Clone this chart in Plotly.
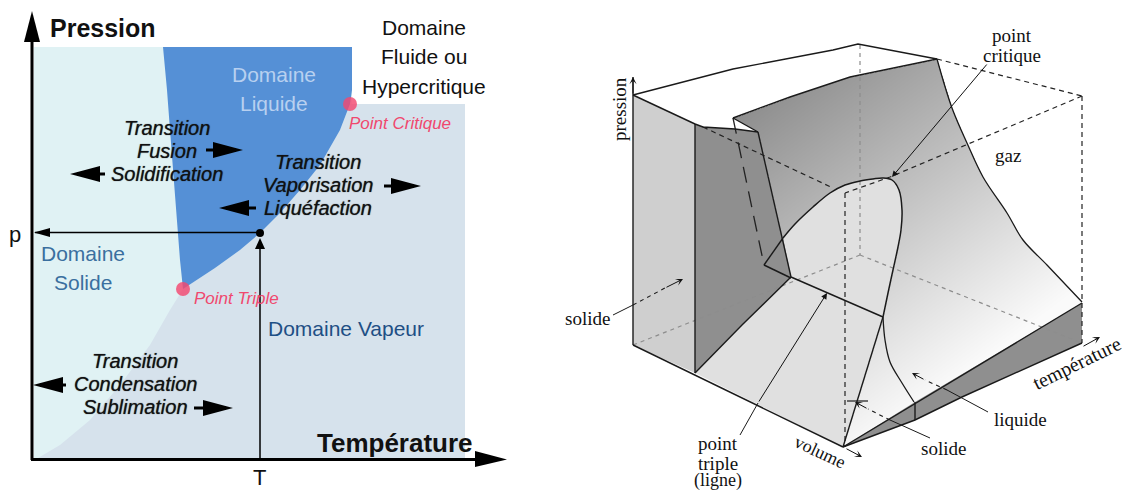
"""
Diagramme de phases (p, T) et surface p-V-T d'un corps pur
"""

import numpy as np
import plotly.graph_objects as go

W, H = 1122, 491
SANS = "Liberation Sans, Arial, sans-serif"
SERIF = "Liberation Serif, serif"

# --- left diagram: domain outlines (T, p)
solid_x = [34, 352, 352, 465, 465, 34]
solid_y = [47, 47, 458, 458, 458, 458]
vapor_x = [38, 60, 90, 120, 150, 170, 183, 215, 240, 260, 280, 300, 320, 340, 350, 465, 465]
vapor_y = [458, 445, 420, 385, 345, 310, 289, 268, 250, 233, 213, 190, 165, 130, 104, 104, 458]
liquid_x = [163, 352, 352, 350, 340, 320, 300, 280, 260, 240, 215, 183, 180, 178, 175, 170, 167]
liquid_y = [47, 47, 90, 104, 130, 165, 190, 213, 233, 250, 268, 289, 260, 232, 190, 130, 90]
special_x = [350, 183]
special_y = [104, 289]
state_x = [260]
state_y = [233]

# thick arrows: tail x, tip x, y
big_arrows = [(206, 243, 150), (105, 70, 174), (384, 421, 186), (256, 219, 208), (66, 33, 385), (194, 233, 408)]

# --- right diagram: faces of the p-V-T surface
face_solid_x = [633, 695, 695, 633]
face_solid_y = [95, 124, 373, 345]
face_dark_x = [695, 703, 735, 758, 791, 742, 695]
face_dark_y = [124, 127, 129, 132, 277, 325, 373]
floor_x = [695, 791, 883, 843]
floor_y = [373, 277, 317, 447]
notch_x = [791, 783, 764]
notch_y = [277, 238, 265]
front_x = [843, 915, 1082, 1082, 962, 915]
front_y = [447, 402, 303, 343, 397, 420]

# bell of the liquid-vapour dome, left foot to triple line
bell_x = [783, 795, 813, 830, 845, 860, 873, 883, 892, 899, 902, 901, 898, 893, 888, 883]
bell_y = [238, 224, 207, 193, 185, 181, 179, 178, 180, 190, 210, 230, 247, 270, 293, 317]
top_front_x = [733, 790, 850, 937]
top_front_y = [118, 97, 77, 59]
right_edge_x = [937, 952, 967, 983, 1007, 1023, 1047, 1082]
right_edge_y = [59, 108, 143, 177, 213, 240, 265, 302]

# shading of the big surface: grey level at a few spots
shade_xy = [(937, 65), (750, 140), (960, 180), (1040, 290), (920, 330)]
shade_level = [168, 150, 200, 242, 232]

# --- right diagram: wires
top_edge_x = [633, 733, 833, 858, 937]
top_edge_y = [95, 69, 50, 44, 59]
liquidus_x = [883, 885, 890, 902, 914]
liquidus_y = [317, 340, 362, 383, 402]

solid_wires = [
    ([633, 633], [77, 345]), ([633, 695], [95, 124]), ([695, 695], [124, 373]),
    ([633, 843], [345, 447]), ([695, 742, 791], [373, 325, 277]), ([695, 703, 735, 758], [124, 127, 129, 132]),
    ([733, 758], [118, 132]), ([758, 791], [132, 277]), ([791, 883], [277, 317]),
    ([883, 843], [317, 447]), ([764, 783], [265, 238]), ([764, 791], [265, 278]),
    (top_front_x, top_front_y), ([843, 1082], [447, 303]), ([843, 915, 962, 1082], [447, 420, 397, 343]),
    ([915, 915], [402, 420]),
]
dashed_wires = [
    ([937, 1082], [59, 96]), ([1082, 1082], [96, 343]), ([1082, 890, 845], [96, 177, 193]),
    ([845, 845], [193, 447]), ([703, 833], [127, 188]),
]
long_dash_wire = ([733, 764], [118, 265])
grey_wires = [([860, 860], [45, 255]), ([860, 1082], [255, 343]), ([860, 633], [255, 345])]

fig = go.Figure()


def fill(x, y, color):
    fig.add_trace(go.Scatter(x=x, y=y, mode="lines", fill="toself", fillcolor=color,
                             line=dict(width=0, color=color), hoverinfo="skip"))


def wire(x, y, color="#1a1a1a", width=1.3, dash="solid", shape="linear"):
    fig.add_trace(go.Scatter(x=x, y=y, mode="lines", hoverinfo="skip",
                             line=dict(color=color, width=width, dash=dash, shape=shape)))


def label(x, y, txt, size=16, color="#111", family=SANS, angle=0, weight=None, style=None, shadow=None):
    fig.add_annotation(x=x, y=y, text=txt, showarrow=False, textangle=angle,
                       font=dict(size=size, color=color, family=family, weight=weight, style=style, shadow=shadow))


def arrow(x0, y0, x1, y1, color="#111", width=1, head=2, size=1.2):
    fig.add_annotation(x=x1, y=y1, ax=x0, ay=y0, xref="x", yref="y", axref="x", ayref="y", text="",
                       showarrow=True, arrowhead=head, arrowwidth=width, arrowsize=size, arrowcolor=color)


def thick(x0, x1, y):
    # short shaft then a long slim head, pointing along x
    d = 1 if x1 > x0 else -1
    base = x1 - 30 * d
    fill([x0, base, base, x1, base, base, x0],
         [y - 1.5, y - 1.5, y - 8, y, y + 8, y + 1.5, y + 1.5], "#000")


# left diagram
fill(solid_x, solid_y, "#E0F2F4")
fill(vapor_x, vapor_y, "#D6E2EC")
fill(liquid_x, liquid_y, "#5590D6")
wire([260, 35], [232.5, 232.5], "#000", 1.5)
wire([260, 260], [459, 245], "#000", 1.5)
fill([34, 50, 50], [232.5, 228, 237], "#000")
fill([260, 255, 265], [238, 249, 249], "#000")
fig.add_trace(go.Scatter(x=special_x, y=special_y, mode="markers", hoverinfo="skip",
                         marker=dict(size=14, color="rgba(243,72,112,0.82)")))
fig.add_trace(go.Scatter(x=state_x, y=state_y, mode="markers", hoverinfo="skip",
                         marker=dict(size=8, color="#000")))
wire([32, 32], [40, 460], "#000", 3)
wire([31, 478], [459.5, 459.5], "#000", 3)
fill([32, 24, 40], [11, 42, 42], "#000")
fill([507, 475, 475], [459.5, 451, 467], "#000")
for tail, tip, yy in big_arrows:
    thick(tail, tip, yy)

label(103, 28, "Pression", 25, "#111", weight="bold")
label(395, 443, "Température", 26, "#111", weight="bold")
label(424, 27, "Domaine", 21)
label(424, 56, "Fluide ou", 21)
label(424, 86, "Hypercritique", 21)
label(274, 74, "Domaine", 21, "#B8D0F0")
label(274, 103, "Liquide", 21, "#B8D0F0")
label(83, 253, "Domaine", 21, "#3A6F9F")
label(83, 282, "Solide", 21, "#3A6F9F")
label(346, 328, "Domaine Vapeur", 21, "#1E4F85")
label(400, 123, "Point Critique", 17, "#F0486E", style="italic")
label(236, 298, "Point Triple", 17, "#F0486E", style="italic")
label(15, 234, "p", 22)
label(259, 477, "T", 22)
for cx, ys, words in [(167, (128, 151, 174), ("Transition", "Fusion", "Solidification")),
                      (318, (162, 185, 208), ("Transition", "Vaporisation", "Liquéfaction")),
                      (135, (361, 384, 407), ("Transition", "Condensation", "Sublimation"))]:
    for yy, word in zip(ys, words):
        label(cx, yy, word, 20, "#111", style="italic", shadow="0 0 1px rgba(0,0,0,0.7)")

# right diagram
fill(face_solid_x, face_solid_y, "#CFCFCF")
fill(face_dark_x, face_dark_y, "#8F8F8F")
fill(floor_x, floor_y, "#E0E0E0")
fill([791] + bell_x, [277] + bell_y, "#E0E0E0")
fill(notch_x, notch_y, "#8F8F8F")

# outline of the big surface, walked round from its back corner
surface_x = top_front_x + right_edge_x[1:] + [843] + bell_x[::-1] + [791, 758]
surface_y = top_front_y + right_edge_y[1:] + [447] + bell_y[::-1] + [277, 132]

# grey shading of the surface, masked to its outline
gx = np.arange(min(surface_x), max(surface_x) + 1)
gy = np.arange(min(surface_y), max(surface_y) + 1)
mx, my = np.meshgrid(gx, gy)
coef = np.linalg.lstsq(np.array([[1, px, py] for px, py in shade_xy]), np.array(shade_level), rcond=None)[0]
shade = np.clip(coef[0] + coef[1] * mx + coef[2] * my, 0, 250)
inside = np.zeros(mx.shape, dtype=bool)
n = len(surface_x)
for i in range(n):
    x0, y0, x1, y1 = surface_x[i], surface_y[i], surface_x[(i + 1) % n], surface_y[(i + 1) % n]
    if y0 == y1:
        continue
    crosses = (y0 > my) != (y1 > my)
    inside ^= crosses & (mx < (x1 - x0) * (my - y0) / (y1 - y0) + x0)
shade[~inside] = np.nan
fig.add_trace(go.Heatmap(x=gx, y=gy, z=shade, zmin=0, zmax=255, showscale=False, hoverinfo="skip",
                         colorscale=[[0, "#000"], [1, "#fff"]]))

fill(front_x, front_y, "#8F8F8F")
for xs, ys in grey_wires:
    wire(xs, ys, "#8d8d8d", 1.2, "4px,4px")
for xs, ys in dashed_wires:
    wire(xs, ys, "#222", 1.2, "5px,4px")
wire(long_dash_wire[0], long_dash_wire[1], "#222", 1.3, "16px,9px")
wire(top_edge_x, top_edge_y)
wire(right_edge_x, right_edge_y, shape="spline")
wire(bell_x, bell_y, width=1.5, shape="spline")
wire(liquidus_x, liquidus_y, shape="spline")
for xs, ys in solid_wires:
    wire(xs, ys, width=1.4)

arrow(633, 95, 633, 77, width=1, head=3)
arrow(988, 63, 892, 177)
arrow(758, 403, 827, 293)
wire([740, 758], [435, 403], width=1)
wire([613, 633], [315, 305], width=1)
wire([633, 665], [305, 288], width=1.1, dash="4px,4px")
arrow(665, 288, 683, 279, head=3)
arrow(845, 448, 862, 457, head=3)
arrow(1082, 347, 1100, 337, head=3)
wire([988, 947], [412, 390], width=1)
wire([947, 925], [390, 380], width=1.1, dash="4px,4px")
arrow(925, 380, 912, 373, head=3)
wire([930, 890], [438, 420], width=1)
wire([890, 868], [420, 409], width=1.1, dash="4px,4px")
arrow(868, 409, 855, 402, head=3)
wire([847, 868], [401, 401], width=1.2)

label(1012, 35, "point", 19, family=SERIF)
label(1012, 55, "critique", 19, family=SERIF)
label(1008, 155, "gaz", 19, family=SERIF)
label(619, 109, "pression", 19, family=SERIF, angle=-90)
label(587, 318, "solide", 19, family=SERIF)
label(718, 443, "point", 19, family=SERIF)
label(718, 463, "triple", 19, family=SERIF)
label(718, 480, "(ligne)", 18, family=SERIF)
label(820, 452, "volume", 18, family=SERIF, angle=25)
label(1077, 363, "température", 20, family=SERIF, angle=-26)
label(1020, 419, "liquide", 19, family=SERIF)
label(943, 448, "solide", 19, family=SERIF)

fig.update_layout(width=W, height=H, margin=dict(l=0, r=0, t=0, b=0), showlegend=False,
                  plot_bgcolor="white", paper_bgcolor="white")
fig.update_xaxes(range=[0, W], visible=False, fixedrange=True)
fig.update_yaxes(range=[H, 0], visible=False, fixedrange=True)

fig.write_html("out.html", config=dict(displayModeBar=False), post_script="document.body.style.margin='0';")
